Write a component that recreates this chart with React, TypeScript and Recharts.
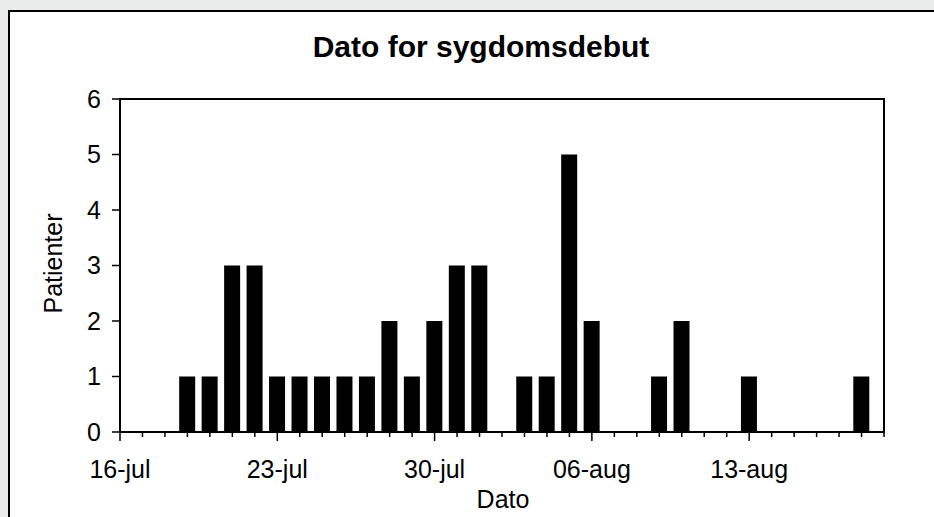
import { BarChart, Bar, XAxis, YAxis, ReferenceArea } from "recharts";

// Antal patienter pr. dag, dag 0 = 16-jul, sidste dag = 19-aug
const patienter = [
  0, 0, 0, 1, 1, 3, 3, 1, 1, 1, 1, 1, 2, 1, 2, 3, 3, 0,
  1, 1, 5, 2, 0, 0, 1, 2, 0, 0, 1, 0, 0, 0, 0, 1, 0,
];

// Ugemærker på x-aksen (dagnummer og tekst)
const ugeDage = [0, 7, 14, 21, 28];
const ugeLabels = ["16-jul", "23-jul", "30-jul", "06-aug", "13-aug"];

const yTicks = [0, 1, 2, 3, 4, 5, 6];

const FONT = '"Liberation Sans", Arial, Helvetica, sans-serif';
const SIDSTE_DAG = patienter.length - 1;

const data = patienter.map((antal, dag) => ({ dag, antal }));
const alleDage = patienter.map((_, dag) => dag);

function DagTick(props: any) {
  const { x, y, payload } = props;
  const idx = ugeDage.indexOf(payload.value);
  const lang = idx >= 0;
  return (
    <g>
      <line x1={x} x2={x} y1={y} y2={y + (lang ? 9 : 5)} stroke="#000" strokeWidth={1.5} />
      {lang && (
        <text x={x} y={y + 46} textAnchor="middle" fontSize={25} fontFamily={FONT} fill="#000">
          {ugeLabels[idx]}
        </text>
      )}
    </g>
  );
}

export default function App() {
  return (
    <div
      style={{
        position: "fixed",
        left: 0,
        top: 0,
        width: 934,
        height: 517,
        overflow: "hidden",
        background: "#e9ecea",
      }}
    >
      <div
        style={{
          position: "absolute",
          left: 7.5,
          top: 10,
          width: 1000,
          height: 600,
          background: "#fff",
          border: "2px solid #000",
          boxSizing: "border-box",
        }}
      />
      <div style={{ position: "absolute", left: 0, top: 0 }}>
        <BarChart
          width={934}
          height={517}
          data={data}
          margin={{ top: 99, right: 50, left: 60, bottom: 0 }}
        >
          <ReferenceArea
            x1={0}
            x2={SIDSTE_DAG}
            y1={0}
            y2={6}
            fill="none"
            stroke="#000"
            strokeWidth={2}
            ifOverflow="visible"
          />
          <XAxis
            type="number"
            dataKey="dag"
            domain={[0, SIDSTE_DAG]}
            ticks={alleDage}
            interval={0}
            height={85}
            tickSize={0}
            tickMargin={0}
            axisLine={{ stroke: "#000", strokeWidth: 2 }}
            tickLine={false}
            tick={<DagTick />}
            allowDecimals={false}
          />
          <YAxis
            type="number"
            domain={[0, 6]}
            ticks={yTicks}
            width={60}
            tickSize={8}
            tickMargin={11}
            axisLine={{ stroke: "#000", strokeWidth: 2 }}
            tickLine={{ stroke: "#000", strokeWidth: 1.5 }}
            tick={{ fontSize: 25, fill: "#000", fontFamily: FONT }}
          />
          <Bar dataKey="antal" fill="#000" barSize={16} isAnimationActive={false} />
        </BarChart>
      </div>
      <svg
        width={934}
        height={517}
        style={{ position: "absolute", left: 0, top: 0, pointerEvents: "none" }}
      >
        <text x={481} y={57} textAnchor="middle" fontSize={30} fontWeight="bold" fontFamily={FONT} fill="#000">
          Dato for sygdomsdebut
        </text>
        <text
          x={62}
          y={263.5}
          textAnchor="middle"
          fontSize={25}
          fontFamily={FONT}
          fill="#000"
          transform="rotate(-90, 62, 263.5)"
        >
          Patienter
        </text>
        <text x={503} y={508} textAnchor="middle" fontSize={25} fontFamily={FONT} fill="#000">
          Dato
        </text>
      </svg>
    </div>
  );
}
